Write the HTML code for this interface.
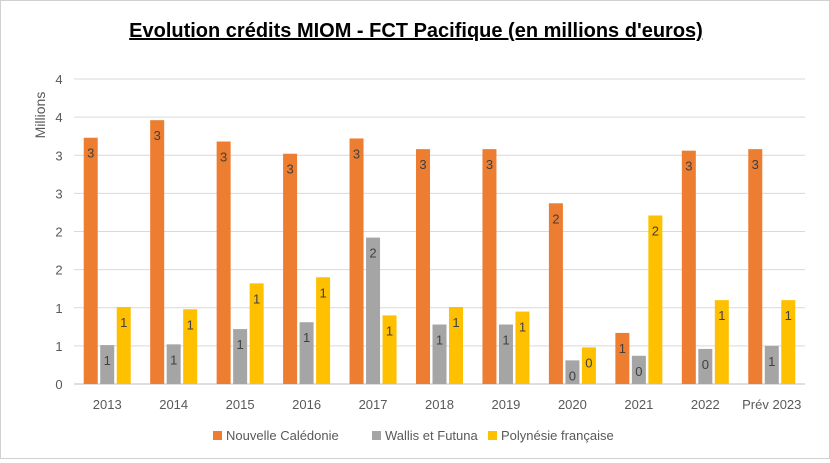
<!DOCTYPE html>
<html><head><meta charset="utf-8"><style>
body{margin:0;background:#fff;font-family:"Liberation Sans",sans-serif}
#c{position:relative;width:828px;height:457px;border:1px solid #d0d0d0}
</style></head><body>
<div id="c">
<svg id="s" width="828" height="457"></svg>
</div>
<script>
const categories=["2013","2014","2015","2016","2017","2018","2019","2020","2021","2022","Prév 2023"];
const nc=[3.23,3.46,3.18,3.02,3.22,3.08,3.08,2.37,0.67,3.06,3.08];
const wf=[0.51,0.52,0.72,0.81,1.92,0.78,0.78,0.31,0.37,0.46,0.5];
const pf=[1.01,0.98,1.32,1.40,0.90,1.01,0.95,0.48,2.21,1.10,1.10];
const ticks=[0,0.5,1,1.5,2,2.5,3,3.5,4];
const tickLabels=["0","1","1","2","2","3","3","4","4"];
const seriesNames=["Nouvelle Calédonie","Wallis et Futuna","Polynésie française"];
const colors=["#ed7d31","#a5a5a5","#ffc000"];
const NS="http://www.w3.org/2000/svg",svg=document.getElementById('s');
const L=73,R=804,Y0=383,Y4=78;
const y=v=>Y0-(Y4-Y0)*-v/4;
const bw=(R-L)/categories.length;
const xc=i=>L+bw*(i+0.5);
function el(t,a,txt){const e=document.createElementNS(NS,t);for(const k in a)e.setAttribute(k,a[k]);if(txt!==undefined)e.textContent=txt;svg.appendChild(e);return e;}
let t=el('text',{x:415,y:36,'text-anchor':'middle','font-size':20,'font-weight':'bold',fill:'#000','text-decoration':'underline'},"Evolution crédits MIOM - FCT Pacifique (en millions d'euros)");


ticks.forEach((v,i)=>{
 const g=el('line',{x1:L,x2:R,y1:y(v),y2:y(v),stroke:i?'#d9d9d9':'#bfbfbf','stroke-width':1});
 
 
 const tl=el('text',{x:58,y:y(v)+5,'text-anchor':'middle','font-size':13,fill:'#595959'},tickLabels[i]);
 
 
});
t=el('text',{x:0,y:0,transform:'translate(44,114) rotate(-90)','text-anchor':'middle','font-size':14,fill:'#595959'},'Millions');


const series=[nc,wf,pf];
categories.forEach((c,i)=>{
 series.forEach((s,j)=>{
  const cx=xc(i)+(j-1)*16.5,w=14,top=y(s[i]);
  const r=el('rect',{x:cx-w/2,y:top,width:w,height:Y0-top,fill:colors[j]});
  
  
  const lb=el('text',{x:cx,y:top+20,'text-anchor':'middle','font-size':13,fill:'#404040'},String(Math.round(s[i])));
  
  
 });
 const xl=el('text',{x:xc(i),y:408,'text-anchor':'middle','font-size':13,fill:'#595959'},c);
 
 
});
const lx=[212,371,487];
seriesNames.forEach((n,j)=>{
 const r=el('rect',{x:lx[j],y:430,width:9,height:9,fill:colors[j]});
 
 
 const lt=el('text',{x:lx[j]+13,y:439,'font-size':13,fill:'#595959'},n);
 
 
});
</script>
</body></html>
